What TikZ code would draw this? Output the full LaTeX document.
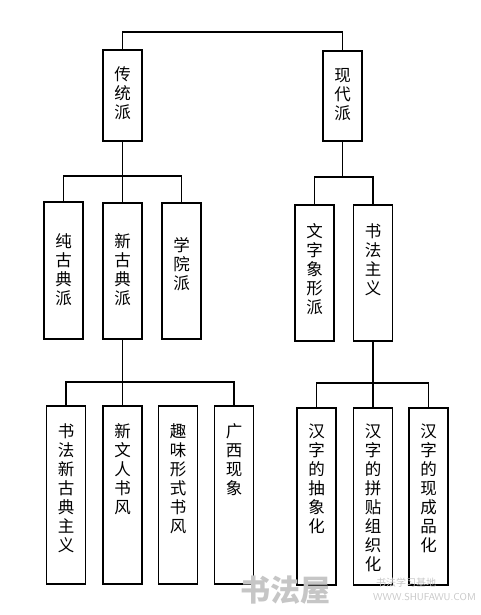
\documentclass[tikz,border=0pt]{standalone}
\usepackage{fontspec}
\newfontfamily\cjk{Noto Sans CJK SC}
\usetikzlibrary{positioning}
% vertical column of characters, top aligned in a fixed height
\newcommand{\vcol}[3]{\parbox[c][#1][t]{39pt}{\centering\vspace*{#2}#3}}
\tikzset{
  box/.style={draw,rectangle,line width=1.6pt,inner sep=0pt,minimum width=39pt,font=\cjk\fontsize{16.5}{19}\selectfont},
  link/.style={line width=1.5pt},
  wmark/.style={text=gray!45,inner sep=0pt}
}

\begin{document}
\begin{tikzpicture}[x=1pt,y=-1pt]
        \useasboundingbox (0,0) rectangle (480,615);
        % top level
        \node[box] (ct) at (122.5,95.5) {\vcol{91pt}{17pt}{传\\统\\派}};
        \node[box] (xd) at (342.5,96) {\vcol{90pt}{17pt}{现\\代\\派}};

        % traditional branch
        \node[box] (cg) at (63.5,270.5) {\vcol{137pt}{32pt}{纯\\古\\典\\派}};
        \node[box] (xg) at (122.5,271) {\vcol{136pt}{31pt}{新\\古\\典\\派}};
        \node[box] (xy) at (181.5,271) {\vcol{136pt}{34pt}{学\\院\\派}};

        % modern branch
        \node[box] (wz) at (314.5,273) {\vcol{136pt}{19pt}{文\\字\\象\\形\\派}};
        \node[box] (sf) at (373,273) {\vcol{136pt}{19pt}{书\\法\\主\\义}};

        % under the new classical school
        \node[box] (sx) at (66,495) {\vcol{178pt}{18pt}{书\\法\\新\\古\\典\\主\\义}};
        \node[box] (xw) at (122.5,495) {\vcol{178pt}{18pt}{新\\文\\人\\书\\风}};
        \node[box] (qw) at (178,495) {\vcol{178pt}{18pt}{趣\\味\\形\\式\\书\\风}};
        \node[box] (gx) at (234,495) {\vcol{178pt}{18pt}{广\\西\\现\\象}};

        % under calligraphism
        \node[box] (cx) at (316.5,496.5) {\vcol{177pt}{16pt}{汉\\字\\的\\抽\\象\\化}};
        \node[box] (pt) at (373,496.5) {\vcol{177pt}{16pt}{汉\\字\\的\\拼\\贴\\组\\织\\化}};
        \node[box] (xc) at (428.5,496.5) {\vcol{177pt}{16pt}{汉\\字\\的\\现\\成\\品\\化}};

        % connectors
        \draw[link] (ct.north) -- ++(0,-17) -| (xd.north);
        \draw[link] (ct.south) -- (xg.north);
        \draw[link] (cg.north) -- ++(0,-25) -| (xy.north);
        \path (wz.north) ++(0,-27) coordinate (rbar);
        \draw[link] (wz.north) -- (rbar) -| (sf.north);
        \draw[link] (xd.south) -- (xd.south |- rbar);
        \draw[link] (xg.south) -- (xw.north);
        \draw[link] (sx.north) -- ++(0,-23) -| (gx.north);
        \draw[link] (sf.south) -- (pt.north);
        \draw[link] (cx.north) -- ++(0,-24) -| (xc.north);

        % watermark
        \node[wmark,font=\cjk\bfseries\fontsize{30}{30}\selectfont] (wm) at (285,590) {书法屋};
        \node[wmark,font=\cjk\fontsize{10}{10}\selectfont,anchor=west] (wm1) at (376,583) {书法学习基地};
        \node[wmark,font=\sffamily\fontsize{10}{10}\selectfont,anchor=west] (wm2) at (373,597) {WWW.SHUFAWU.COM};
    \end{tikzpicture}
\end{document}
